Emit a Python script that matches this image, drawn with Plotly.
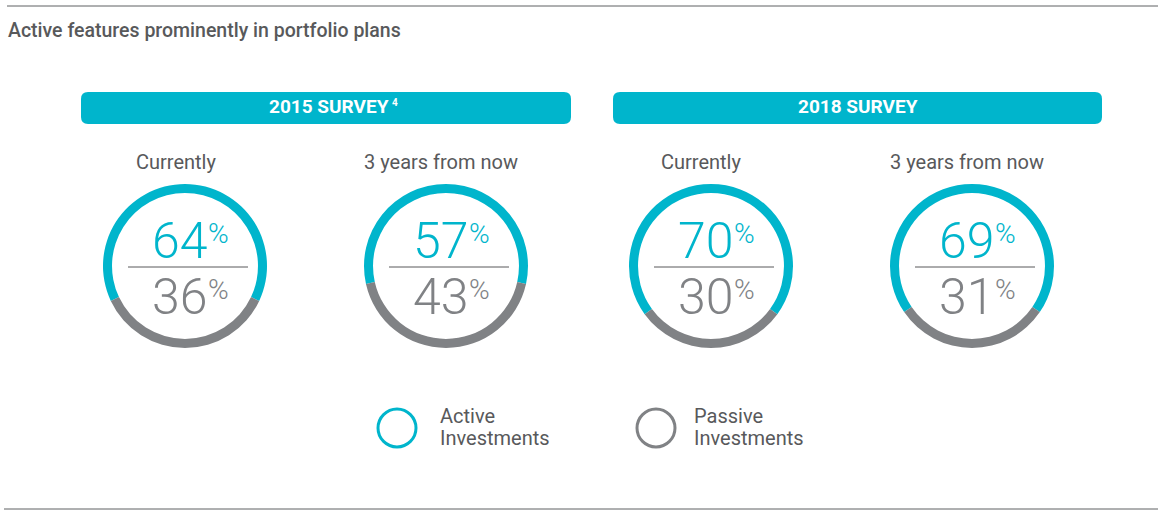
import plotly.graph_objects as go

# ---------------- data ----------------
surveys = ["2015 SURVEY", "2018 SURVEY"]
survey_notes = ["4", ""]
horizons = ["Currently", "3 years from now", "Currently", "3 years from now"]
active_pct = [64, 57, 70, 69]
passive_pct = [36, 43, 30, 31]
legend_line1 = ["Active", "Passive"]
legend_line2 = ["Investments", "Investments"]

# ---------------- styles / layout ----------------
W, H = 1158, 513
TEAL = "#00b5cc"
GREY = "#808285"
TEXT = "#58595b"
FONT = "Roboto"

donut_cx = [185, 446, 711, 972]
donut_cy = 266
donut_r = 82
label_cx = [176, 441, 701, 967]
header_x = [(81, 571), (613, 1102)]
header_y = (92, 124)


def px(x):
    return x / W


def py(y):
    return 1 - y / H


fig = go.Figure()

for i in range(4):
    cx = donut_cx[i]
    fig.add_trace(go.Pie(
        values=[active_pct[i], passive_pct[i]],
        labels=["Active Investments", "Passive Investments"],
        marker=dict(colors=[TEAL, GREY], line=dict(width=0)),
        hole=0.89,
        sort=False,
        direction="clockwise",
        rotation=(180 + passive_pct[i] * 1.8) % 360,
        textinfo="none",
        hoverinfo="label+percent",
        showlegend=False,
        domain=dict(x=[px(cx - donut_r), px(cx + donut_r)],
                    y=[py(donut_cy + donut_r), py(donut_cy - donut_r)]),
    ))

shapes = []
annotations = []

# top and bottom rules
shapes.append(dict(type="line", xref="paper", yref="paper", x0=px(7), x1=px(1158),
                   y0=py(6), y1=py(6), line=dict(color="#5f6062", width=1)))
shapes.append(dict(type="line", xref="paper", yref="paper", x0=px(4), x1=px(1158),
                   y0=py(509), y1=py(509), line=dict(color="#5f6062", width=1)))

# title
annotations.append(dict(text="Active features prominently in portfolio plans",
                        xref="paper", yref="paper", x=px(6), y=py(31),
                        xanchor="left", yanchor="middle", showarrow=False,
                        font=dict(family=FONT, size=19.5, color=TEXT, weight=500)))


def rounded_rect(x0, y0, x1, y1, r):
    X = lambda v: px(v)
    Y = lambda v: py(v)
    return (f"M {X(x0 + r)},{Y(y0)} L {X(x1 - r)},{Y(y0)} Q {X(x1)},{Y(y0)} {X(x1)},{Y(y0 + r)} "
            f"L {X(x1)},{Y(y1 - r)} Q {X(x1)},{Y(y1)} {X(x1 - r)},{Y(y1)} L {X(x0 + r)},{Y(y1)} "
            f"Q {X(x0)},{Y(y1)} {X(x0)},{Y(y1 - r)} L {X(x0)},{Y(y0 + r)} Q {X(x0)},{Y(y0)} {X(x0 + r)},{Y(y0)} Z")


for s in range(2):
    x0, x1 = header_x[s]
    y0, y1 = header_y
    shapes.append(dict(type="path", xref="paper", yref="paper",
                       path=rounded_rect(x0, y0, x1, y1, 7),
                       fillcolor=TEAL, line=dict(width=0), layer="below"))
    xc = (x0 + x1) / 2 + (3 if survey_notes[s] else 0)
    annotations.append(dict(text=surveys[s], xref="paper", yref="paper",
                            x=px(xc), y=py(106),
                            xanchor="center", yanchor="middle", showarrow=False,
                            font=dict(family=FONT, size=19, color="white", weight=700)))
    if survey_notes[s]:
        annotations.append(dict(text=survey_notes[s], xref="paper", yref="paper",
                                x=px(xc + 61), y=py(102),
                                xanchor="left", yanchor="middle", showarrow=False,
                                font=dict(family=FONT, size=10, color="white", weight=700)))

for i in range(4):
    cx = donut_cx[i]
    annotations.append(dict(text=horizons[i], xref="paper", yref="paper",
                            x=px(label_cx[i]), y=py(162), xanchor="center", yanchor="middle",
                            showarrow=False, font=dict(family=FONT, size=20, color=TEXT)))
    # divider
    shapes.append(dict(type="line", xref="paper", yref="paper",
                       x0=px(cx - 57), x1=px(cx + 63), y0=py(267), y1=py(267),
                       line=dict(color="#58595b", width=1)))
    for val, col, yc in ((active_pct[i], TEAL, 241), (passive_pct[i], GREY, 297)):
        annotations.append(dict(text=str(val), xref="paper", yref="paper",
                                x=px(cx + 24), y=py(yc), xanchor="right", yanchor="middle",
                                showarrow=False,
                                font=dict(family=FONT, size=50, color=col, weight=300)))
        annotations.append(dict(text="%", xref="paper", yref="paper",
                                x=px(cx + 21), y=py(yc - 8), xanchor="left", yanchor="middle",
                                showarrow=False,
                                font=dict(family=FONT, size=28, color=col, weight=300)))

# legend
legend_cx = [397, 656]
legend_tx = [438, 692]
for k, col in enumerate([TEAL, GREY]):
    cx = legend_cx[k]
    shapes.append(dict(type="circle", xref="paper", yref="paper",
                       x0=px(cx - 19), x1=px(cx + 19), y0=py(428 + 19), y1=py(428 - 19),
                       line=dict(color=col, width=3), fillcolor="rgba(0,0,0,0)"))
    for txt, yy in ((legend_line1[k], 416), (legend_line2[k], 438)):
        annotations.append(dict(text=txt, xref="paper", yref="paper",
                                x=px(legend_tx[k]), y=py(yy), xanchor="left", yanchor="middle",
                                align="left", showarrow=False,
                                font=dict(family=FONT, size=20, color=TEXT)))

fig.update_layout(
    width=W, height=H, margin=dict(l=0, r=0, t=0, b=0),
    paper_bgcolor="white", plot_bgcolor="white",
    shapes=shapes, annotations=annotations, showlegend=False,
)

fig.write_html("out.html", config={"displayModeBar": False},
               post_script="document.body.style.margin='0';document.body.style.overflow='hidden';")
